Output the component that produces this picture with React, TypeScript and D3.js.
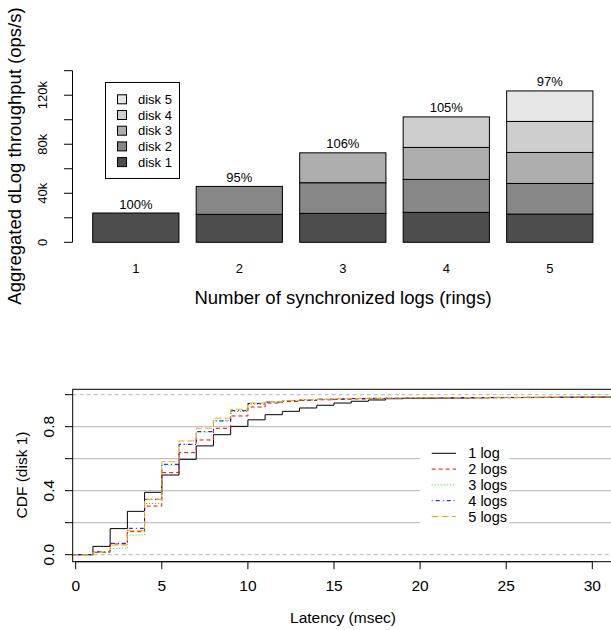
import React from "react";
import * as d3 from "d3";

// ---------- Top chart data ----------
const ringCounts = ["1", "2", "3", "4", "5"];
const diskNames = ["disk 1", "disk 2", "disk 3", "disk 4", "disk 5"];
// throughput per disk (ops/s) for each ring count
const disk1 = [23900, 22800, 23600, 24400, 23000];
const disk2 = [0, 22800, 25000, 26900, 25000];
const disk3 = [0, 0, 24400, 26100, 25300];
const disk4 = [0, 0, 0, 24900, 25300];
const disk5 = [0, 0, 0, 0, 24900];
const efficiencyLabels = ["100%", "95%", "106%", "105%", "97%"];
const diskColors = ["#4D4D4D", "#878787", "#AEAEAE", "#CECECE", "#E6E6E6"];
const yTicksTop = [0, 20000, 40000, 60000, 80000, 100000, 120000, 140000];
const yTickLabelsTop = ["0", "", "40k", "", "80k", "", "120k", ""];

// ---------- Bottom chart data (CDF at latency k, k = 0..31 msec) ----------
const latencyMs = d3.range(0, 32);
const cdf1 = [0, 0.052, 0.163, 0.271, 0.39, 0.498, 0.596, 0.68, 0.75, 0.802, 0.843, 0.875, 0.896, 0.917, 0.934, 0.948, 0.959, 0.967, 0.975, 0.977, 0.978, 0.979, 0.98, 0.981, 0.982, 0.982, 0.983, 0.983, 0.984, 0.984, 0.985, 0.985];
const cdf2 = [0, 0.015, 0.067, 0.144, 0.304, 0.513, 0.638, 0.717, 0.79, 0.867, 0.923, 0.948, 0.958, 0.964, 0.968, 0.971, 0.973, 0.975, 0.976, 0.977, 0.978, 0.979, 0.98, 0.98, 0.981, 0.982, 0.982, 0.983, 0.983, 0.984, 0.984, 0.985];
const cdf3 = [0, 0.012, 0.04, 0.123, 0.32, 0.56, 0.69, 0.767, 0.838, 0.895, 0.94, 0.953, 0.962, 0.967, 0.971, 0.974, 0.976, 0.977, 0.978, 0.979, 0.98, 0.981, 0.981, 0.982, 0.982, 0.983, 0.983, 0.984, 0.984, 0.985, 0.985, 0.986];
const cdf4 = [0, 0.019, 0.071, 0.165, 0.346, 0.565, 0.69, 0.769, 0.836, 0.9, 0.945, 0.955, 0.963, 0.968, 0.972, 0.974, 0.976, 0.977, 0.978, 0.979, 0.98, 0.981, 0.981, 0.982, 0.982, 0.983, 0.983, 0.984, 0.984, 0.985, 0.985, 0.986];
const cdf5 = [0, 0.017, 0.06, 0.15, 0.346, 0.581, 0.711, 0.79, 0.853, 0.909, 0.948, 0.957, 0.964, 0.969, 0.972, 0.975, 0.977, 0.978, 0.979, 0.98, 0.981, 0.981, 0.982, 0.982, 0.983, 0.983, 0.984, 0.984, 0.985, 0.985, 0.986, 0.986];
const seriesNames = ["1 log", "2 logs", "3 logs", "4 logs", "5 logs"];
const seriesColors = ["#000000", "#FF0000", "#00EE00", "#0000FF", "#FFA500"];
const seriesDash = ["", "4,3", "1,2", "1,3,4,3", "7,3"];
const xTicksBottom = [0, 5, 10, 15, 20, 25, 30];
const yTicksBottom = [0, 0.2, 0.4, 0.6, 0.8, 1.0];
const yTickLabelsBottom = ["0.0", "", "0.4", "", "0.8", ""];

const FONT = "'Liberation Sans', Arial, Helvetica, sans-serif";

export default function App() {
  // ---- top scales ----
  const xU = d3.scaleLinear().domain([-0.032, 6.232]).range([72.7, 612.9]);
  const yT = d3.scaleLinear().domain([0, 140000]).range([242.3, 70.7]);
  const stacks = [disk1, disk2, disk3, disk4, disk5];
  const bars = ringCounts.map((r, i) => {
    let acc = 0;
    const segs = stacks.map((s, d) => {
      const y0 = acc;
      acc += s[i];
      return { d, y0, y1: acc, v: s[i] };
    }).filter((s) => s.v > 0);
    return { r, i, segs, total: acc, left: 0.2 + i * 1.2 };
  });

  // ---- bottom scales ----
  const xB = d3.scaleLinear().domain([0, 30]).range([75.7, 592.3]);
  const yB = d3.scaleLinear().domain([0, 1]).range([554.7, 394.7]);
  const boxL = 72.7, boxT = 389.3, boxB = 561.7, boxR = 640;
  const allCdf = [cdf1, cdf2, cdf3, cdf4, cdf5];
  const line = d3
    .line<[number, number]>()
    .x((d) => xB(d[0]))
    .y((d) => yB(d[1]))
    .curve(d3.curveStepAfter);
  const paths = allCdf.map((c) => {
    const pts: [number, number][] = [[-2, 0]];
    latencyMs.forEach((k, j) => pts.push([k, c[j]]));
    pts.push([40, c[c.length - 1]]);
    return line(pts) || "";
  });

  return (
    <svg
      width={611}
      height={630}
      style={{ position: "absolute", left: 0, top: 0, background: "#fff" }}
      fontFamily={FONT}
    >
      <rect x={0} y={0} width={611} height={630} fill="#fff" />
      {/* ================= TOP CHART ================= */}
      {/* y axis */}
      <line x1={72.5} x2={72.5} y1={yT(0)} y2={yT(140000)} stroke="#000" />
      {yTicksTop.map((t, i) => (
        <g key={"yt" + i}>
          <line x1={64} x2={72.5} y1={yT(t)} y2={yT(t)} stroke="#000" />
          {yTickLabelsTop[i] && (
            <text
              transform={`translate(42,${yT(t)}) rotate(-90)`}
              textAnchor="middle"
              dominantBaseline="central"
              fontSize={13}
            >
              {yTickLabelsTop[i]}
            </text>
          )}
        </g>
      ))}
      <text
        transform={`translate(14,${156}) rotate(-90)`}
        textAnchor="middle"
        dominantBaseline="central"
        fontSize={18.5}
      >
        Aggregated dLog throughput (ops/s)
      </text>
      {/* bars */}
      {bars.map((b) => (
        <g key={"bar" + b.i}>
          {b.segs.map((s) => (
            <rect
              key={s.d}
              x={xU(b.left)}
              width={xU(b.left + 1) - xU(b.left)}
              y={yT(s.y1)}
              height={yT(s.y0) - yT(s.y1)}
              fill={diskColors[s.d]}
              stroke="#000"
              strokeWidth={1}
            />
          ))}
          <text
            x={xU(b.left + 0.5)}
            y={yT(b.total) - 9}
            textAnchor="middle"
            dominantBaseline="central"
            fontSize={13}
          >
            {efficiencyLabels[b.i]}
          </text>
          <text
            x={xU(b.left + 0.5)}
            y={268}
            textAnchor="middle"
            dominantBaseline="central"
            fontSize={13}
          >
            {b.r}
          </text>
        </g>
      ))}
      <text x={343} y={297} textAnchor="middle" dominantBaseline="central" fontSize={18.5}>
        Number of synchronized logs (rings)
      </text>
      {/* top legend */}
      <rect x={105.5} y={82.5} width={74} height={96} fill="#fff" stroke="#000" />
      {diskNames
        .map((n, d) => ({ n, d }))
        .reverse()
        .map((e, j) => (
          <g key={"lg" + e.d}>
            <rect
              x={117.5}
              y={99.3 + j * 15.7 - 4.5}
              width={9}
              height={9}
              fill={diskColors[e.d]}
              stroke="#000"
            />
            <text x={138} y={99.3 + j * 15.7} dominantBaseline="central" fontSize={13}>
              {e.n}
            </text>
          </g>
        ))}

      {/* ================= BOTTOM CHART ================= */}
      <defs>
        <clipPath id="plotClip">
          <rect x={boxL} y={boxT} width={boxR - boxL} height={boxB - boxT} />
        </clipPath>
      </defs>
      {/* grid lines */}
      {[0.2, 0.4, 0.6, 0.8].map((g) => (
        <line key={"g" + g} x1={boxL} x2={611} y1={yB(g)} y2={yB(g)} stroke="#b4b4b4" strokeWidth={1} />
      ))}
      {[0, 1].map((g) => (
        <line
          key={"gd" + g}
          x1={boxL}
          x2={611}
          y1={yB(g)}
          y2={yB(g)}
          stroke="#b4b4b4"
          strokeWidth={1}
          strokeDasharray="4,3"
        />
      ))}
      {/* cdf lines */}
      <g clipPath="url(#plotClip)">
        {paths.map((p, i) => (
          <path
            key={"p" + i}
            d={p}
            fill="none"
            stroke={seriesColors[i]}
            strokeWidth={1}
            strokeDasharray={seriesDash[i] || undefined}
          />
        ))}
      </g>
      {/* legend */}
      <rect x={420} y={438} width={89.3} height={94} fill="#fff" />
      {seriesNames.map((n, i) => (
        <g key={"bl" + i}>
          <line
            x1={431.7}
            x2={456}
            y1={453.3 + i * 15.8}
            y2={453.3 + i * 15.8}
            stroke={seriesColors[i]}
            strokeDasharray={seriesDash[i] || undefined}
          />
          <text x={468.3} y={453.3 + i * 15.8} dominantBaseline="central" fontSize={14.5}>
            {n}
          </text>
        </g>
      ))}
      {/* box */}
      <rect x={boxL} y={boxT} width={boxR - boxL} height={boxB - boxT} fill="none" stroke="#000" />
      {/* x axis */}
      <line x1={xB(0)} x2={xB(30)} y1={boxB} y2={boxB} stroke="#000" />
      {xTicksBottom.map((t) => (
        <g key={"xb" + t}>
          <line x1={xB(t)} x2={xB(t)} y1={boxB} y2={boxB + 7.5} stroke="#000" />
          <text x={xB(t)} y={585} textAnchor="middle" dominantBaseline="central" fontSize={15.5}>
            {t}
          </text>
        </g>
      ))}
      <text x={343} y={617} textAnchor="middle" dominantBaseline="central" fontSize={15.5}>
        Latency (msec)
      </text>
      {/* y axis */}
      {yTicksBottom.map((t, i) => (
        <g key={"yb" + i}>
          <line x1={65} x2={boxL} y1={yB(t)} y2={yB(t)} stroke="#000" />
          {yTickLabelsBottom[i] && (
            <text
              transform={`translate(48,${yB(t)}) rotate(-90)`}
              textAnchor="middle"
              dominantBaseline="central"
              fontSize={15.5}
            >
              {yTickLabelsBottom[i]}
            </text>
          )}
        </g>
      ))}
      <text
        transform={`translate(21.5,${475}) rotate(-90)`}
        textAnchor="middle"
        dominantBaseline="central"
        fontSize={15.5}
      >
        CDF (disk 1)
      </text>
    </svg>
  );
}
